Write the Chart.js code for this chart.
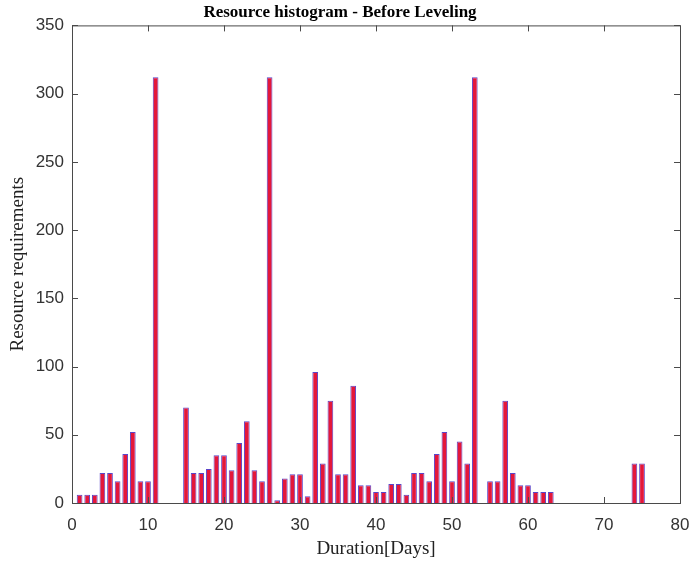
<!DOCTYPE html>
<html>
<head>
<meta charset="utf-8">
<script src="https://cdn.jsdelivr.net/npm/chart.js@4/dist/chart.umd.min.js"></script>
<style>
  html, body { margin: 0; padding: 0; background: #fff; }
  #wrap { width: 690px; height: 566px; }
</style>
</head>
<body>
<div id="wrap"><canvas id="histChart" width="690" height="566"></canvas></div>
<script>
// days 1..75 and resource requirements
var days = [];
for (var d = 1; d <= 75; d++) days.push(d);
var resources = [
    6, 6, 6, 22, 22, 16, 36, 52, 16, 16,
    312, 0, 0, 0, 70, 22, 22, 25, 35, 35,
    24, 44, 60, 24, 16, 312, 2, 18, 21, 21,
    5, 96, 29, 75, 21, 21, 86, 13, 13, 8,
    8, 14, 14, 6, 22, 22, 16, 36, 52, 16,
    45, 29, 312, 0, 16, 16, 75, 22, 13, 13,
    8, 8, 8, 0, 0, 0, 0, 0, 0, 0,
    0, 0, 0, 29, 29
];
var xTicks = [0, 10, 20, 30, 40, 50, 60, 70, 80];
var yTicks = [0, 50, 100, 150, 200, 250, 300, 350];

var axisColor = '#4a4a4a';

// MATLAB style box with ticks pointing inwards
var boxTicks = {
    id: 'boxTicks',
    afterDraw: function(chart) {
        var ctx = chart.ctx;
        var a = chart.chartArea;
        var xs = chart.scales.x, ys = chart.scales.y;
        ctx.save();
        ctx.strokeStyle = axisColor;
        ctx.lineWidth = 1;
        ctx.strokeRect(a.left + 0.5, a.top + 0.5, a.right - a.left, a.bottom - a.top);
        ctx.beginPath();
        xTicks.forEach(function(t) {
            var px = Math.round(xs.getPixelForValue(t)) + 0.5;
            ctx.moveTo(px, a.bottom); ctx.lineTo(px, a.bottom - 6);
            ctx.moveTo(px, a.top); ctx.lineTo(px, a.top + 6);
        });
        yTicks.forEach(function(t) {
            var py = Math.round(ys.getPixelForValue(t)) + 0.5;
            ctx.moveTo(a.left, py); ctx.lineTo(a.left + 6, py);
            ctx.moveTo(a.right, py); ctx.lineTo(a.right - 6, py);
        });
        ctx.stroke();
        ctx.restore();
    }
};

var ctx = document.getElementById('histChart').getContext('2d');
var histChart = new Chart(ctx, {
    type: 'bar',
    data: {
        datasets: [{
            label: 'Resources',
            data: days.map(function(d, i) { return { x: d, y: resources[i] }; }),
            backgroundColor: '#e4173a',
            borderColor: '#5b45c8',
            borderWidth: 1,
            barPercentage: 0.75,
            categoryPercentage: 1.0
        }]
    },
    options: {
        responsive: false,
        animation: false,
        layout: { padding: { left: 0, right: 10, top: 0, bottom: 0 } },
        plugins: {
            legend: { display: false },
            tooltip: { enabled: false },
            title: {
                display: true,
                text: 'Resource histogram - Before Leveling',
                color: '#000',
                font: { family: 'Liberation Serif', size: 17, weight: 'bold' },
                padding: { top: 2, bottom: 3 }
            }
        },
        scales: {
            x: {
                type: 'linear',
                min: 0,
                max: 80,
                offset: false,
                afterBuildTicks: function(scale) {
                    scale.ticks = xTicks.map(function(v) { return { value: v }; });
                },
                afterFit: function(scale) {
                    scale.height = 63;
                    scale.paddingLeft = 0;
                    scale.paddingRight = 0;
                },
                grid: { display: false, drawTicks: false },
                border: { display: false },
                ticks: {
                    color: '#333',
                    padding: 12,
                    maxRotation: 0,
                    font: { family: 'Liberation Sans', size: 17 }
                },
                title: {
                    display: true,
                    text: 'Duration[Days]',
                    color: '#222',
                    padding: { top: 0, bottom: 6 },
                    font: { family: 'Liberation Serif', size: 19 }
                }
            },
            y: {
                min: 0,
                max: 350,
                afterBuildTicks: function(scale) {
                    scale.ticks = yTicks.map(function(v) { return { value: v }; });
                },
                afterFit: function(scale) {
                    scale.width = 72;
                },
                grid: { display: false, drawTicks: false },
                border: { display: false },
                ticks: {
                    color: '#333',
                    padding: 8,
                    font: { family: 'Liberation Sans', size: 17 }
                },
                title: {
                    display: true,
                    text: 'Resource requirements',
                    color: '#222',
                    padding: { top: 7, bottom: 4 },
                    font: { family: 'Liberation Serif', size: 19 }
                }
            }
        }
    },
    plugins: [boxTicks]
});
</script>
</body>
</html>
